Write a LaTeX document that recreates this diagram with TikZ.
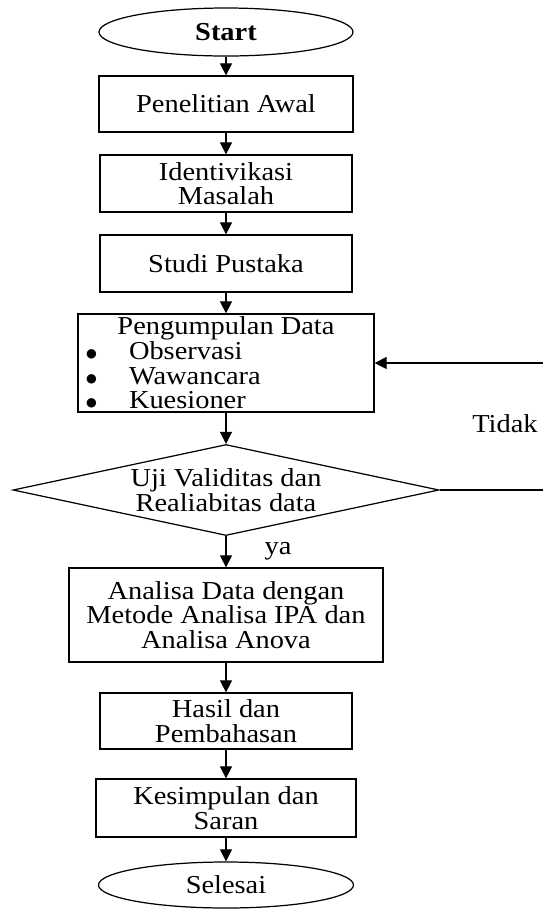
\documentclass[tikz,border=0pt]{standalone}
\usepackage{fontspec}
\setmainfont{Liberation Serif}[FakeStretch=1.1]
\newfontfamily\dejavu{DejaVu Sans}
\usepackage{tikz}
\usetikzlibrary{shapes.geometric,arrows.meta}

\newcommand{\kbullet}[1]{\makebox[5.8cm][l]{\makebox[0.96cm][l]{\hspace*{0.1cm}\raisebox{1pt}{\dejavu\fontsize{7pt}{0pt}\selectfont ●}}#1}}

\begin{document}
\begin{tikzpicture}[font=\fontsize{14.7pt}{14pt}\selectfont,
  proses/.style={draw,line width=0.7pt,inner sep=0pt,align=center,minimum width=5.04cm,minimum height=1.14cm},
  terminal/.style={draw,ellipse,line width=0.7pt,inner sep=0pt,minimum width=5.08cm,minimum height=0.96cm},
  keputusan/.style={draw,diamond,aspect=4.68,line width=0.7pt,inner sep=0pt,align=center,minimum width=8.52cm,minimum height=1.82cm},
  panah/.style={line width=0.6pt,-{Triangle[width=0.24cm,length=0.24cm]}}]
            \clip (0,0) rectangle (10.86,-18.2);
            \node[terminal,font=\fontsize{14.7pt}{14pt}\selectfont\bfseries] (start) at (4.52,-0.64) {Start};
            \node[proses,minimum width=5.08cm,minimum height=1.12cm] (awal) at (4.52,-2.08) {Penelitian Awal};
            \node[proses] (identifikasi) at (4.52,-3.67) {Identivikasi\\Masalah};
            \node[proses] (studi) at (4.52,-5.27) {Studi Pustaka};
            \node[proses,minimum width=5.92cm,minimum height=1.96cm] (kumpul) at (4.52,-7.26)
              {Pengumpulan Data\\\kbullet{Observasi}\\\kbullet{Wawancara}\\\kbullet{Kuesioner}};
            \node[keputusan] (uji) at (4.52,-9.8) {Uji Validitas dan\\Realiabitas data};
            \node[proses,minimum width=6.28cm,minimum height=1.88cm] (analisa) at (4.52,-12.3)
              {Analisa Data dengan\\Metode Analisa IPA dan\\Analisa Anova};
            \node[proses,minimum height=1.12cm] (hasil) at (4.52,-14.42) {Hasil dan\\Pembahasan};
            \node[proses,minimum width=5.2cm,minimum height=1.16cm] (simpulan) at (4.52,-16.16) {Kesimpulan dan\\Saran};
            \node[terminal,minimum width=5.1cm,minimum height=0.92cm] (selesai) at (4.52,-17.7) {Selesai};
            \node (tidak) at (10.1,-8.48) {Tidak};
            \node (ya) at (5.56,-11.02) {ya};
            \coordinate (balik) at (10.92,-9.8);

            \draw[panah] (start) -- (awal);
            \draw[panah] (awal) -- (identifikasi);
            \draw[panah] (identifikasi) -- (studi);
            \draw[panah] (studi) -- (kumpul);
            \draw[panah] (kumpul) -- (uji);
            \draw[panah] (uji) -- (analisa);
            \draw[panah] (analisa) -- (hasil);
            \draw[panah] (hasil) -- (simpulan);
            \draw[panah] (simpulan) -- (selesai);
            \draw[panah] (uji.east) -- (balik) |- (kumpul.east);
\end{tikzpicture}
\end{document}
